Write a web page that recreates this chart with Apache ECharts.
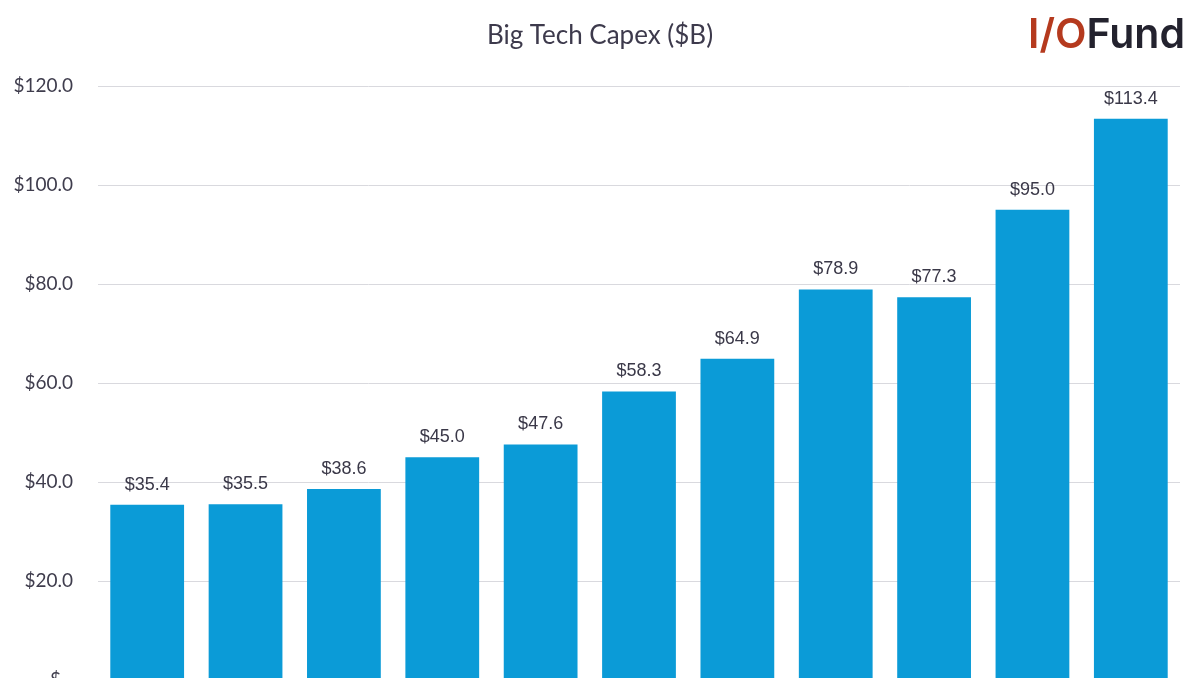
<!DOCTYPE html>
<html><head><meta charset="utf-8">
<script src="https://cdn.jsdelivr.net/npm/echarts@6/dist/echarts.min.js"></script>
<style>html,body{margin:0;padding:0;background:#fff}#c{width:1200px;height:678px}</style>
</head><body><div id="c"></div>
<script>
const categories = ["P1","P2","P3","P4","P5","P6","P7","P8","P9","P10","P11"];
const capex = [35.4, 35.5, 38.6, 45.0, 47.6, 58.3, 64.9, 78.9, 77.3, 95.0, 113.4];
const yTicks = [0, 20, 40, 60, 80, 100, 120];

const chart = echarts.init(document.getElementById('c'));
chart.setOption({
  backgroundColor: '#ffffff',
  animation: false,
  title: [{
    text: 'Big Tech Capex ($B)',
    left: 'center', top: 18,
    textStyle: {fontFamily: 'Lato', fontSize: 26, fontWeight: 'normal', color: '#3d3a4c'}
  }, {
    text: '{a|I/O}{b|Fund}',
    right: 10, top: 10,
    textStyle: {
      rich: {
        a: {fontFamily: 'Inter', fontSize: 41, fontWeight: 600, color: '#b53a1e'},
        b: {fontFamily: 'Inter', fontSize: 41, fontWeight: 600, color: '#23222e'}
      }
    }
  }],
  grid: {left: 98, right: 20, top: 86, bottom: -2, containLabel: false, outerBoundsMode: 'none'},
  xAxis: {
    type: 'category', data: categories,
    axisLine: {show: false}, axisTick: {show: false}, axisLabel: {show: false}
  },
  yAxis: {
    type: 'value', min: 0, max: 120, interval: 20,
    axisLine: {show: false}, axisTick: {show: false},
    splitLine: {lineStyle: {color: '#d9d9de', width: 1}},
    axisLabel: {
      margin: 25, fontFamily: 'Lato', fontSize: 19, color: '#3f3d4d',
      formatter: v => yTicks.includes(v) ? (v === 0 ? '$ -' : '$' + v.toFixed(1)) : ''
    }
  },
  series: [{
    type: 'bar', data: capex, barCategoryGap: '25%',
    itemStyle: {color: '#0b9bd7'},
    label: {
      show: true, position: 'top', distance: 11,
      fontFamily: 'Liberation Sans', fontSize: 18, color: '#3a3848',
      formatter: p => '$' + p.value.toFixed(1)
    }
  }]
});
</script></body></html>
